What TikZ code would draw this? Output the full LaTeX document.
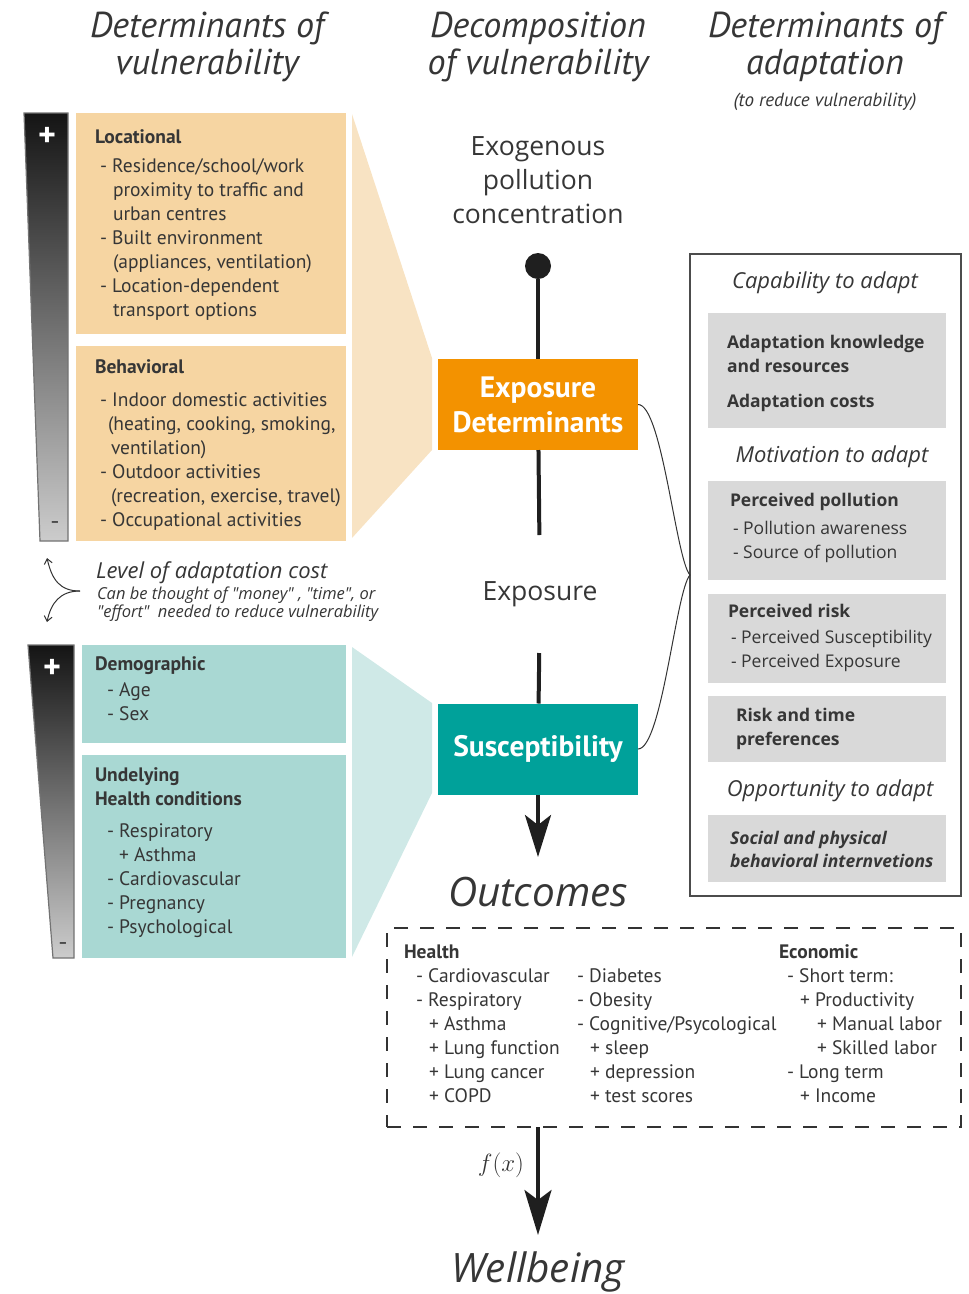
\documentclass[tikz,border=0pt]{standalone}
\usepackage{fontspec}
\setmainfont{PT Sans}
\newfontfamily\opensans{Open Sans}
\usepackage{tikz}
\usetikzlibrary{positioning, arrows.meta, shapes}
\definecolor{txtgray}{HTML}{363636}
\definecolor{locfill}{HTML}{F6D5A2}
\definecolor{locfunnel}{HTML}{F8E3C3}
\definecolor{expfill}{HTML}{F39200}
\definecolor{susfill}{HTML}{00A19A}
\definecolor{demfill}{HTML}{A9D8D3}
\definecolor{demfunnel}{HTML}{CFE9E7}
\definecolor{adaptfill}{HTML}{D9D9D9}

\begin{document}
\begin{tikzpicture}[x=1pt, y=-1pt,
  every node/.style={text=txtgray, inner sep=0pt, outer sep=0pt},
  colhead/.style={font=\fontsize{36}{37}\selectfont\itshape, align=center},
  catbox/.style={anchor=north west, minimum width=270},
  cattext/.style={anchor=north west, align=left, font=\fontsize{19.5}{24}\selectfont},
  keybox/.style={minimum width=200, minimum height=91, text=white, align=center, font=\fontsize{29.5}{35}\selectfont\bfseries},
  midtext/.style={font=\opensans\fontsize{26.5}{34}\selectfont, align=center},
  bigital/.style={font=\opensans\itshape\fontsize{40.5}{42}\selectfont},
  adaptbox/.style={anchor=north west, fill=adaptfill, minimum width=238},
  adapttext/.style={anchor=north west, align=left, font=\opensans\fontsize{17.5}{24}\selectfont},
  adapthead/.style={font=\opensans\fontsize{22}{24}\selectfont\itshape},
  flow/.style={line width=4pt, draw=black!88},
  brace/.style={line width=1pt, draw=black!80},
  costbar/.style={top color=black!92, bottom color=black!20, draw=black!55, line width=1.2pt},
]
\useasboundingbox (0,0) rectangle (969,1294);

% column headings
\node[colhead] (hvul) at (207,47) {Determinants of\\vulnerability};
\node[colhead] (hdec) at (538,47) {Decomposition\\of vulnerability};
\node[colhead] (hada) at (825,47) {Determinants of\\adaptation};
\node[font=\fontsize{19}{20}\selectfont\itshape] (hnote) at (825,102) {(to reduce vulnerability)};

% cost bars
\shade[costbar] (24,113) -- (68,113) -- (68,541) -- (40,541) -- cycle;
\node[text=white, font=\fontsize{34}{34}\selectfont\bfseries] (plusa) at (47,137) {+};
\node[font=\fontsize{14}{14}\selectfont\bfseries] (minusa) at (55,524) {--};
\shade[costbar] (28,645) -- (74,645) -- (74,958) -- (53,958) -- cycle;
\node[text=white, font=\fontsize{34}{34}\selectfont\bfseries] (plusb) at (52,669) {+};
\node[font=\fontsize{14}{14}\selectfont\bfseries] (minusb) at (63,945) {--};

% funnels
\fill[locfunnel] (352,114) -- (432,358) -- (432,450) -- (352,538) -- cycle;
\fill[demfunnel] (352,647) -- (432,703) -- (432,793) -- (352,957) -- cycle;

% exposure determinants
\node[catbox, fill=locfill, minimum height=221] (loc) at (76,113) {};
\node[cattext] (loctxt) at (95,127) {\strut\textbf{Locational}\\[5pt]
  \hspace*{5pt}- Residence/school/work\\
  \hspace*{18pt}proximity to traffic and\\
  \hspace*{18pt}urban centres\\
  \hspace*{5pt}- Built environment\\
  \hspace*{18pt}(appliances, ventilation)\\
  \hspace*{5pt}- Location-dependent\\
  \hspace*{18pt}transport options};
\node[catbox, fill=locfill, minimum height=195] (beh) at (76,346) {};
\node[cattext] (behtxt) at (95,357) {\strut\textbf{Behavioral}\\[9pt]
  \hspace*{5pt}- Indoor domestic activities\\
  \hspace*{13pt}(heating, cooking, smoking,\\
  \hspace*{16pt}ventilation)\\
  \hspace*{5pt}- Outdoor activities\\
  \hspace*{16pt}(recreation, exercise, travel)\\
  \hspace*{5pt}- Occupational activities};

% susceptibility determinants
\node[catbox, fill=demfill, minimum width=264, minimum height=98] (dem) at (82,645) {};
\node[cattext] (demtxt) at (95,654) {\strut\textbf{Demographic}\\[2pt]
  \hspace*{12pt}- Age\\
  \hspace*{12pt}- Sex};
\node[catbox, fill=demfill, minimum width=264, minimum height=203] (und) at (82,755) {};
\node[cattext] (undtxt) at (95,765) {\strut\textbf{Undelying}\\
  \textbf{Health conditions}\\[8pt]
  \hspace*{12pt}- Respiratory\\
  \hspace*{24pt}+ Asthma\\
  \hspace*{12pt}- Cardiovascular\\
  \hspace*{12pt}- Pregnancy\\
  \hspace*{12pt}- Psychological};

% adaptation cost
\draw[brace, -{Straight Barb[length=5pt, width=8pt]}] (80,591) .. controls (60,591) and (52,580) .. (47,558);
\draw[brace, -{Straight Barb[length=5pt, width=8pt]}] (80,591) .. controls (60,591) and (51,603) .. (47,622);
\node[anchor=west, font=\opensans\fontsize{22}{24}\selectfont\itshape] (costhead) at (96,573) {Level of adaptation cost};
\node[anchor=north west, align=left, font=\opensans\fontsize{16.5}{16}\selectfont\itshape] (costnote) at (97,587) {Can be thought of "money" , "time", or\\"effort"\ \ needed to reduce vulnerability};

% decomposition
\node[midtext] (conc) at (538,180) {Exogenous\\pollution\\concentration};
\node[circle, fill=black!88, minimum size=26] (dot) at (538,266) {};
\node[keybox, fill=expfill] (exp) at (538,404.5) {Exposure\\Determinants};
\node[midtext, minimum height=118] (expo) at (540,594) {Exposure};
\node[keybox, fill=susfill] (sus) at (538,749) {Susceptibility};
\node[bigital, minimum height=70] (outc) at (538,892) {Outcomes};
\draw[flow] (dot) -- (exp);
\draw[flow] (exp) -- (expo);
\draw[flow] (expo) -- (sus);
\draw[flow, -{Stealth[length=42pt, width=26pt, inset=10pt]}] (sus) -- (outc);

% outcomes
\node[anchor=north west, draw=black!80, line width=2pt, dash pattern=on 14pt off 12pt, minimum width=574, minimum height=199] (outbox) at (387,928) {};
\node[cattext] (health) at (404,942) {\strut\textbf{Health}\\
  \hspace*{12pt}- Cardiovascular\\
  \hspace*{12pt}- Respiratory\\
  \hspace*{25pt}+ Asthma\\
  \hspace*{25pt}+ Lung function\\
  \hspace*{25pt}+ Lung cancer\\
  \hspace*{25pt}+ COPD};
\node[cattext] (other) at (577,966) {\strut- Diabetes\\
  - Obesity\\
  - Cognitive/Psycological\\
  \hspace*{13pt}+ sleep\\
  \hspace*{13pt}+ depression\\
  \hspace*{13pt}+ test scores};
\node[cattext] (econ) at (779,942) {\strut\textbf{Economic}\\
  \hspace*{8pt}- Short term:\\
  \hspace*{21pt}+ Productivity\\
  \hspace*{38pt}+ Manual labor\\
  \hspace*{38pt}+ Skilled labor\\
  \hspace*{8pt}- Long term\\
  \hspace*{21pt}+ Income};
\node[bigital, minimum height=74] (wellb) at (538,1272) {Wellbeing};
\draw[flow, -{Stealth[length=45pt, width=27pt, inset=10pt]}] (outc |- outbox.south) -- (wellb)
  node[pos=0.35, left=14pt, font=\fontsize{24}{24}\selectfont] (fx) {$f(x)$};

% determinants of adaptation
\node[anchor=north west, draw=black!70, line width=1.5pt, minimum width=271, minimum height=642] (adapt) at (690,254) {};
\node[adapthead] (capab) at (825,283) {Capability to adapt};
\node[adaptbox, minimum height=115] (capbox) at (708,313) {};
\node[adapttext] (captxt) at (727,331.5) {\strut\textbf{Adaptation knowledge}\\
  \textbf{and resources}\\[11pt]
  \textbf{Adaptation costs}};
\node[adapthead] (motiv) at (832,457) {Motivation to adapt};
\node[adaptbox, minimum height=99] (ppbox) at (708,481) {};
\node[adapttext] (pptxt) at (730,489.5) {\strut\textbf{Perceived pollution}\\[4pt]
  \hspace*{3pt}- Pollution awareness\\
  \hspace*{3pt}- Source of pollution};
\node[adaptbox, minimum height=89] (prbox) at (708,594) {};
\node[adapttext] (prtxt) at (728,600.5) {\strut\textbf{Perceived risk}\\[2pt]
  \hspace*{3pt}- Perceived Susceptibility\\
  \hspace*{3pt}- Perceived Exposure};
\node[adaptbox, minimum height=66] (rtbox) at (708,696) {};
\node[adapttext] (rttxt) at (736,704.5) {\strut\textbf{Risk and time}\\
  \textbf{preferences}};
\node[adapthead] (oppor) at (830,791) {Opportunity to adapt};
\node[adaptbox, minimum height=67] (spbox) at (708,815) {};
\node[adapttext, font=\opensans\fontsize{17.5}{23}\selectfont\bfseries\itshape] (sptxt) at (730,828.5) {\strut Social and physical\\
  behavioral internvetions};

% brace to adaptation
\coordinate (tip) at (adapt.west);
\draw[brace] (exp.east) .. controls (662,404) and (676,560) .. (tip);
\draw[brace] (sus.east) .. controls (662,749) and (676,590) .. (tip);
\end{tikzpicture}
\end{document}
